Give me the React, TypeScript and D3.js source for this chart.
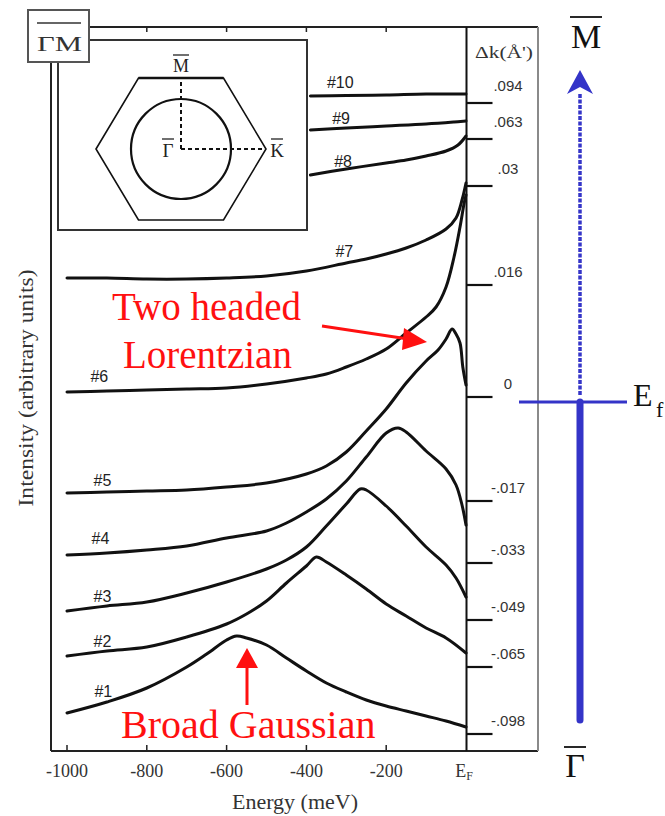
import React from "react";
import * as d3 from "d3";

// ---------- data ----------
// energy (meV) vs intensity above each curve's own baseline (arbitrary units)
const edc1 = [[-1000,21],[-900,32],[-800,46],[-700,67],[-650,80],[-600,94],[-575,98],[-550,96],[-500,89],[-450,76],[-400,63],[-350,51],[-300,42],[-250,34],[-200,28],[-150,23],[-100,18],[-50,13],[0,7]];
const edc2 = [[-1000,11],[-900,16],[-800,20],[-700,30],[-600,43],[-550,53],[-500,66],[-450,84],[-400,101],[-375,110],[-350,105],[-300,92],[-250,78],[-200,63],[-150,51],[-100,39],[-50,29],[0,14]];
const edc3 = [[-1000,9],[-900,14],[-800,18],[-700,27],[-600,38],[-500,51],[-450,60],[-400,73],[-350,94],[-300,116],[-265,131],[-250,130],[-200,114],[-150,94],[-100,73],[-50,55],[-25,42],[0,23]];
const edc4 = [[-1000,8],[-900,10],[-800,13],[-700,17],[-600,25],[-500,32],[-450,40],[-400,51],[-350,64],[-300,82],[-250,106],[-200,130],[-170,135],[-150,131],[-100,112],[-50,94],[-25,78],[-10,58],[0,38]];
const edc5 = [[-1000,8],[-900,9],[-800,10],[-700,11],[-600,14],[-500,18],[-400,27],[-350,35],[-300,49],[-250,70],[-200,92],[-150,118],[-100,140],[-70,151],[-50,162],[-35,172],[-25,167],[-15,158],[-8,134],[0,116]];
const edc6 = [[-1000,5],[-900,6],[-800,7],[-700,8],[-600,9],[-500,13],[-400,19],[-350,23],[-300,30],[-250,38],[-200,48],[-150,64],[-100,80],[-75,90],[-50,110],[-30,140],[-15,170],[-5,193],[0,202]];
const edc7 = [[-1000,7],[-900,7],[-800,6],[-700,6],[-600,7],[-500,9],[-400,14],[-300,22],[-250,26],[-200,31],[-150,37],[-100,45],[-50,56],[-25,67],[-10,85],[0,102]];
const edc8 = [[-390,11],[-300,17],[-200,23],[-150,26],[-100,30],[-50,35],[-20,41],[0,50]];
const edc9 = [[-390,9],[-300,11],[-200,13],[-100,15],[-30,17],[0,18]];
const edc10 = [[-390,7],[-300,7.5],[-200,8],[-100,9],[0,9]];
const curves = [edc1, edc2, edc3, edc4, edc5, edc6, edc7, edc8, edc9, edc10];

// vertical offsets (baselines) of the spectra
const baselines = [17, 84, 131, 188, 250, 354, 466, 565, 612, 648];
const dkLabels = ["-.098", "-.065", "-.049", "-.033", "-.017", "0", ".016", ".03", ".063", ".094"];
const curveNames = ["#1", "#2", "#3", "#4", "#5", "#6", "#7", "#8", "#9", "#10"];
const labelE = [-909, -911, -911, -916, -911, -919, -305, -308, -313, -315];
const labelI = [37, 20, 18, 19, 15, 15, 28, 19, 15, 15];

const xTicks = [-1000, -800, -600, -400, -200, 0];
const xTickLabels = ["-1000", "-800", "-600", "-400", "-200", "EF"];

const BLUE = "#3434c8";
const RED = "#ff1010";
const SERIF = "'Liberation Serif', 'Times New Roman', serif";
const SANS = "'Liberation Sans Narrow', 'Liberation Sans', Arial, sans-serif";

export default function App() {
  const W = 665, H = 816;
  const x = d3.scaleLinear().domain([-1000, 0]).range([67, 466]);
  const y = d3.scaleLinear().domain([0, 724]).range([751, 27]);

  const frameL = 51, frameR = 538, frameT = 27, frameB = 751;
  const efX = x(0) + 0.5;

  const paths = curves.map((c, i) =>
    d3.line<number[]>()
      .x(d => x(d[0]))
      .y(d => y(baselines[i] + d[1]))
      .curve(d3.curveCatmullRom.alpha(0.5))(c) as string
  );

  // inset Brillouin zone
  const ic = { x: 181, y: 149 };
  const hrx = 85, hry = 71;
  const hex = [
    [ic.x - hrx, ic.y], [ic.x - hrx / 2, ic.y - hry], [ic.x + hrx / 2, ic.y - hry],
    [ic.x + hrx, ic.y], [ic.x + hrx / 2, ic.y + hry], [ic.x - hrx / 2, ic.y + hry],
  ];

  // blue k-path graphic
  const bx = 580;
  const ef = 402;

  return (
    <svg width={W} height={H} style={{ position: "absolute", left: 0, top: 0, background: "#fff" }}
      xmlns="http://www.w3.org/2000/svg">
      <rect x={0} y={0} width={W} height={H} fill="#fff" />

      {/* main frame */}
      <line x1={frameL} y1={frameT} x2={frameL} y2={frameB} stroke="#222" strokeWidth={2} />
      <line x1={frameL} y1={frameB} x2={frameR} y2={frameB} stroke="#222" strokeWidth={2} />
      <line x1={frameL} y1={frameT} x2={frameR} y2={frameT} stroke="#222" strokeWidth={2} />
      <line x1={frameR} y1={frameT} x2={frameR} y2={frameB} stroke="#8a8a8a" strokeWidth={2} />
      <line x1={efX} y1={frameT} x2={efX} y2={frameB} stroke="#111" strokeWidth={2} />

      {/* x ticks */}
      {xTicks.slice(0, 5).map((t, i) => (
        <g key={"xt" + i}>
          <line x1={x(t)} x2={x(t)} y1={frameB} y2={frameB - 6} stroke="#222" strokeWidth={1.5} />
          <line x1={x(t)} x2={x(t)} y1={frameT} y2={frameT + 5} stroke="#222" strokeWidth={1.5} />
        </g>
      ))}
      {xTicks.map((t, i) => (
        i < 5 ? (
          <text key={"xl" + i} x={x(t)} y={777} textAnchor="middle" fontFamily={SERIF} fontSize={18} fill="#333">
            {xTickLabels[i]}
          </text>
        ) : (
          <text key={"xl" + i} x={x(t) - 2} y={777} textAnchor="middle" fontFamily={SERIF} fontSize={18} fill="#333">
            E<tspan fontSize={12} dy={3}>F</tspan>
          </text>
        )
      ))}
      <text x={295} y={809} textAnchor="middle" fontFamily={SERIF} fontSize={22} fill="#333">Energy (meV)</text>
      <text transform="translate(33,388) rotate(-90)" textAnchor="middle" fontFamily={SERIF} fontSize={22}
        fill="#333" textLength={237} lengthAdjust="spacingAndGlyphs">Intensity  (arbitrary units)</text>

      {/* right Δk ticks */}
      {baselines.map((b, i) => (
        <g key={"dk" + i}>
          <line x1={efX} x2={efX + 26} y1={y(b)} y2={y(b)} stroke="#111" strokeWidth={2.2} />
          <text x={508} y={y(b) - (i >= 7 ? 12 : 8)} textAnchor="middle" fontFamily={SANS} fontSize={15} fill="#333">{dkLabels[i]}</text>
        </g>
      ))}
      <text x={504} y={58} textAnchor="middle" fontFamily={SERIF} fontSize={17} fill="#333"
        textLength={58} lengthAdjust="spacingAndGlyphs">Δk(Å')</text>

      {/* spectra */}
      {paths.map((p, i) => (
        <path key={"c" + i} d={p} fill="none" stroke="#111" strokeWidth={3} strokeLinejoin="round" strokeLinecap="round" />
      ))}
      {curveNames.map((n, i) => (
        <text key={"n" + i} x={x(labelE[i])} y={y(baselines[i] + labelI[i])} textAnchor="middle"
          fontFamily={SANS} fontSize={16} fill="#222">{n}</text>
      ))}

      {/* inset */}
      <rect x={58} y={40} width={249} height={190} fill="#fff" stroke="#333" strokeWidth={2} />
      <polygon points={hex.map(p => p.join(",")).join(" ")} fill="none" stroke="#111" strokeWidth={1.6} />
      <line x1={hex[1][0]} y1={hex[1][1]} x2={hex[2][0]} y2={hex[2][1]} stroke="#111" strokeWidth={2.6} />
      <circle cx={ic.x} cy={ic.y} r={50} fill="none" stroke="#111" strokeWidth={2.2} />
      <line x1={ic.x} y1={ic.y} x2={ic.x} y2={ic.y - hry} stroke="#111" strokeWidth={2} strokeDasharray="4 3" />
      <line x1={ic.x} y1={ic.y} x2={ic.x + hrx} y2={ic.y} stroke="#111" strokeWidth={2} strokeDasharray="4 3" />
      <text x={ic.x} y={72} textAnchor="middle" fontFamily={SERIF} fontSize={18} fill="#222">M</text>
      <line x1={ic.x - 8} x2={ic.x + 8} y1={55} y2={55} stroke="#222" strokeWidth={1.3} />
      <text x={168} y={157} textAnchor="middle" fontFamily={SERIF} fontSize={19} fill="#222">Γ</text>
      <line x1={162} x2={174} y1={139} y2={139} stroke="#222" strokeWidth={1.3} />
      <text x={277} y={157} textAnchor="middle" fontFamily={SERIF} fontSize={19} fill="#222">K</text>
      <line x1={271} x2={283} y1={139} y2={139} stroke="#222" strokeWidth={1.3} />

      {/* ΓM box */}
      <rect x={28} y={10} width={61} height={52} fill="#fff" stroke="#555" strokeWidth={2} />
      <text x={37} y={51} fontFamily={SERIF} fontSize={21} fill="#333" textLength={45} lengthAdjust="spacingAndGlyphs">ΓM</text>
      <line x1={37} x2={81} y1={23} y2={23} stroke="#333" strokeWidth={1.5} />

      {/* red annotations */}
      <text x={112} y={320} fontFamily={SERIF} fontSize={39} fill={RED}>Two headed</text>
      <text x={123} y={368} fontFamily={SERIF} fontSize={39} fill={RED}>Lorentzian</text>
      <line x1={322} y1={326} x2={408} y2={339} stroke={RED} strokeWidth={3} />
      <polygon points="427,342 404,328 402,350" fill={RED} />
      <text x={121} y={738} fontFamily={SERIF} fontSize={40} fill={RED}>Broad Gaussian</text>
      <line x1={247} y1={705} x2={247} y2={665} stroke={RED} strokeWidth={3} />
      <polygon points="247,648 236,668 258,668" fill={RED} />

      {/* blue k-path */}
      <line x1={bx} x2={bx} y1={94} y2={ef - 6} stroke={BLUE} strokeWidth={3.5} strokeDasharray="4 1.5" />
      <polygon points={`${bx},70 ${bx + 13},94 ${bx},87 ${bx - 13},94`} fill={BLUE} />
      <line x1={bx} x2={bx} y1={ef} y2={720} stroke={BLUE} strokeWidth={7} strokeLinecap="round" />
      <line x1={519} x2={627} y1={ef} y2={ef} stroke={BLUE} strokeWidth={3} />
      <text x={633} y={406} fontFamily={SERIF} fontSize={32} fill="#111">E</text>
      <text x={656} y={417} fontFamily={SERIF} fontSize={22} fill="#111">f</text>
      <text x={586} y={48} textAnchor="middle" fontFamily={SERIF} fontSize={34} fill="#111">M</text>
      <line x1={570} x2={602} y1={17} y2={17} stroke="#111" strokeWidth={1.8} />
      <text x={575} y={777} textAnchor="middle" fontFamily={SERIF} fontSize={34} fill="#111">Γ</text>
      <line x1={564} x2={586} y1={747} y2={747} stroke="#111" strokeWidth={1.8} />
    </svg>
  );
}
